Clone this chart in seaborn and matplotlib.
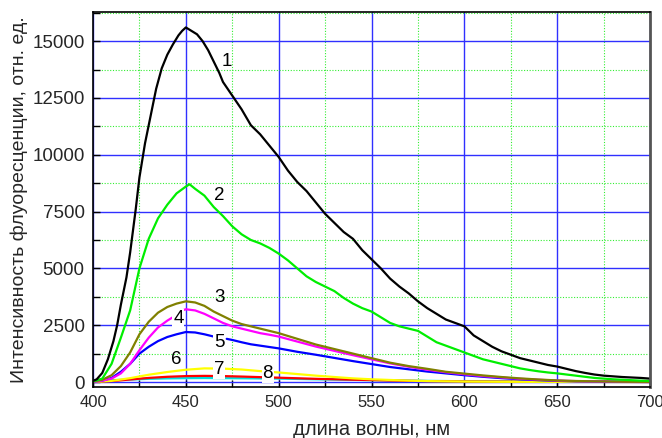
import numpy as np
import pandas as pd
import matplotlib
matplotlib.use("Agg")
import matplotlib.pyplot as plt
from matplotlib.ticker import MultipleLocator
import seaborn as sns

# curve 1 (black)
wl1 = [400, 402, 405, 408, 411, 413, 415, 418, 420, 423, 425, 428, 431, 434, 437, 440, 443, 446, 448, 450,
       453, 456, 459, 462, 465, 468, 470, 475, 480, 485, 490, 495, 500, 505, 510, 515, 520, 525, 530,
       535, 540, 545, 550, 555, 560, 565, 570, 575, 580, 585, 590, 595, 600, 605, 610, 615, 620, 625,
       630, 635, 640, 645, 650, 655, 660, 665, 670, 675, 680, 685, 690, 695, 700]
int1 = [50, 120, 400, 1000, 1800, 2500, 3400, 4600, 5700, 7600, 9000, 10500, 11700, 12900, 13800, 14400,
        14850, 15250, 15450, 15600, 15450, 15300, 15000, 14600, 14100, 13600, 13200, 12600, 12000, 11300,
        10900, 10400, 9900, 9300, 8800, 8400, 7900, 7400, 7000, 6600, 6300, 5800, 5400, 5000, 4550, 4200,
        3900, 3550, 3250, 3000, 2750, 2600, 2450, 2050, 1800, 1550, 1350, 1200, 1050, 950, 850, 750, 680,
        580, 480, 400, 330, 280, 250, 220, 200, 180, 150]

# curve 2 (green)
wl2 = [400, 405, 410, 415, 420, 425, 430, 435, 440, 445, 450, 452, 455, 460, 465, 470, 475, 480, 485,
       490, 495, 500, 505, 510, 515, 520, 525, 530, 535, 540, 545, 550, 555, 560, 565, 570, 575, 580,
       585, 590, 595, 600, 605, 610, 615, 620, 625, 630, 635, 640, 645, 650, 655, 660, 665, 670, 675,
       680, 685, 690, 695, 700]
int2 = [30, 150, 800, 1950, 3150, 5000, 6300, 7200, 7800, 8300, 8600, 8700, 8500, 8200, 7700, 7300, 6850,
        6500, 6250, 6100, 5900, 5650, 5350, 5000, 4650, 4400, 4200, 4000, 3700, 3450, 3250, 3100, 2850,
        2600, 2450, 2350, 2250, 2000, 1750, 1600, 1450, 1300, 1150, 1000, 900, 800, 700, 600, 530, 470,
        420, 380, 330, 280, 230, 180, 150, 120, 100, 80, 60, 50]

# curve 3 (olive)
wl3 = [400, 405, 410, 415, 420, 425, 430, 435, 440, 445, 450, 455, 460, 465, 470, 475, 480, 485, 490,
       495, 500, 510, 520, 530, 540, 550, 560, 570, 580, 590, 600, 610, 620, 630, 640, 650, 660, 670,
       680, 690, 700]
int3 = [20, 100, 300, 700, 1300, 2100, 2650, 3050, 3300, 3450, 3550, 3500, 3350, 3100, 2900, 2700, 2550,
        2450, 2350, 2250, 2150, 1900, 1650, 1450, 1250, 1050, 850, 700, 580, 450, 370, 290, 220, 160, 110,
        70, 45, 30, 20, 10, 5]

# curve 4 (magenta), broken by its label
wl4a = [400, 405, 410, 415, 420, 425, 430, 435, 440, 443]
int4a = [10, 60, 150, 380, 800, 1400, 1950, 2400, 2700, 2850]
wl4b = [448, 450, 455, 460, 465, 470, 475, 480, 485, 490, 495, 500, 510, 520, 530, 540, 550, 560, 570,
        580, 590, 600, 610, 620, 630, 640, 650, 660, 670, 680, 690, 700]
int4b = [3150, 3200, 3150, 3000, 2800, 2600, 2450, 2350, 2250, 2150, 2080, 2000, 1780, 1560, 1370, 1180,
         1000, 820, 670, 540, 430, 340, 260, 200, 140, 100, 60, 40, 25, 15, 8, 3]

# curve 5 (blue), broken by its label
wl5a = [400, 405, 410, 415, 420, 425, 430, 435, 440, 445, 450, 455, 460, 465]
int5a = [10, 60, 180, 450, 800, 1250, 1550, 1800, 1980, 2100, 2200, 2180, 2100, 2000]
wl5b = [472, 475, 480, 485, 490, 495, 500, 510, 520, 530, 540, 550, 560, 570, 580, 590, 600, 610, 620,
        630, 640, 650, 660, 670, 680, 690, 700]
int5b = [1900, 1850, 1750, 1660, 1600, 1540, 1480, 1330, 1200, 1060, 920, 790, 660, 560, 460, 380, 300,
         230, 170, 120, 80, 50, 30, 20, 10, 5, 0]

# curves 6-8 (low intensity)
wl_low = [400, 410, 420, 430, 440, 450, 460, 470, 480, 490, 500, 510, 520, 530, 540, 550, 560, 570,
          580, 600, 620, 650, 700]
int6 = [0, 50, 170, 320, 440, 540, 600, 590, 550, 480, 420, 350, 280, 220, 160, 120, 90, 60, 40, 20,
        10, 5, 0]
int7 = [0, 40, 110, 180, 230, 260, 270, 260, 240, 215, 190, 165, 140, 120, 100, 85, 65, 52, 40, 25,
        18, 10, 0]
int8 = [60, 80, 110, 140, 160, 170, 175, 170, 165, 158, 150, 135, 120, 108, 95, 82, 70, 60, 50, 35,
        25, 15, 5]

labels = ["1", "2", "3", "4", "5", "6", "7", "8"]
label_x = [472, 468, 468, 446, 468, 445, 468, 494]
label_y = [14100, 8200, 3700, 2800, 1750, 1000, 560, 380]

sns.set_style("white")
plt.rcParams["font.family"] = ["Liberation Sans", "DejaVu Sans"]

fig = plt.figure(figsize=(6.62, 4.38), dpi=100)
ax = fig.add_axes([0.1405, 0.1164, 0.8415, 0.8562])

lw = 1.6
curves = [
    (wl_low, int8, "#00e0e0"),
    (wl_low, int7, "#ff0000"),
    (wl_low, int6, "#ffff00"),
    (wl5a, int5a, "#0000ff"),
    (wl5b, int5b, "#0000ff"),
    (wl4a, int4a, "#ff00ff"),
    (wl4b, int4b, "#ff00ff"),
    (wl3, int3, "#808000"),
    (wl2, int2, "#00ee00"),
    (wl1, int1, "#000000"),
]
for xs, ys, c in curves:
    sns.lineplot(x=xs, y=ys, color=c, lw=lw, ax=ax, sort=False)

for t, x, y in zip(labels, label_x, label_y):
    kw = {}
    if t in ("4", "5", "7", "8"):
        kw["bbox"] = dict(facecolor="white", edgecolor="none", pad=0.5)
    ax.text(x, y, t, fontsize=13.5, ha="center", va="center", color="black", zorder=5, **kw)

ax.set_xlim(400, 700)
ax.set_ylim(-220, 16280)
ax.xaxis.set_major_locator(MultipleLocator(50))
ax.xaxis.set_minor_locator(MultipleLocator(25))
ax.yaxis.set_major_locator(MultipleLocator(2500))
ax.yaxis.set_minor_locator(MultipleLocator(1250))
ax.grid(which="major", color="#3030ff", lw=1.0, ls="-")
ax.grid(which="minor", color="#33ee33", lw=0.8, ls=(0, (1, 1.5)))
ax.set_axisbelow(True)
ax.tick_params(which="both", direction="in", length=5, width=1, color="black",
               top=False, right=False, bottom=True, left=True)
ax.tick_params(axis="y", labelsize=13.5, pad=6)
ax.tick_params(axis="x", labelsize=12, pad=6)
for s in ax.spines.values():
    s.set_color("black")
    s.set_linewidth(1.2)
ax.spines["right"].set_color("#555555")
ax.spines["right"].set_linewidth(2)

ax.set_xlabel("длина волны, нм", fontsize=14.5, va="center")
ax.xaxis.set_label_coords(0.5, -0.113)
ax.set_ylabel("Интенсивность флуоресценции, отн. ед.", fontsize=14, va="center")
ax.yaxis.set_label_coords(-0.133, 0.5)

fig.savefig("out.png", dpi=100)
